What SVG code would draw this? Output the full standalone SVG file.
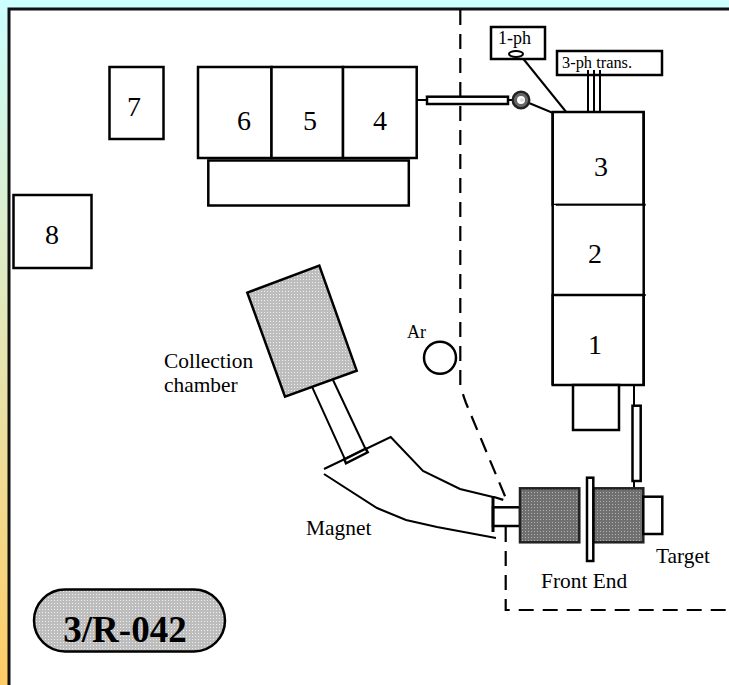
<svg xmlns="http://www.w3.org/2000/svg" width="729" height="685" viewBox="0 0 729 685">
<style>
.s{fill:none;stroke:#000;stroke-width:2}
.w{fill:#fff;stroke:#000;stroke-width:2.5}
.d{fill:none;stroke:#000;stroke-width:2.2;stroke-dasharray:15 9}
.t{font-family:"Liberation Serif",serif;fill:#000}
.n{font-size:28px}.l{font-size:21.4px}.x{font-size:18px}
.dk{fill:url(#dk);stroke:#222;stroke-width:2.5}
</style>
<defs>
<linearGradient id="bg" x1="0" y1="0" x2="0" y2="1"><stop offset="0" stop-color="#ccffff"/><stop offset="1" stop-color="#ffcc66"/></linearGradient>
<pattern id="dk" width="3" height="3" patternUnits="userSpaceOnUse"><rect width="3" height="3" fill="#707070"/><rect width="1" height="1" fill="#b0b0b0"/></pattern>
<pattern id="lt" width="3" height="3" patternUnits="userSpaceOnUse"><rect width="3" height="3" fill="#bdbdbd"/><rect width="1" height="1" fill="#eee"/></pattern>
</defs>
<rect width="729" height="685" fill="url(#bg)"/>
<rect x="9" y="9" width="720" height="676" fill="#fff"/>
<path d="M9 685V9H729" fill="none" stroke="#111" stroke-width="3"/>
<g id="connectors">
<path class="d" d="M460.3 10V385Q463 395 466 403L507 501L494 497"/>
<path class="d" d="M505.7 527V610H729"/>
<path class="s" d="M529 103L553 113H567"/>
<path class="s" d="M521 56L567 113"/>
<path class="s" d="M417 100H427M508 100H514"/>
<path class="s" d="M634 385V406M634 481V489"/>
</g>
<g id="n7"><rect class="w" x="109.5" y="67" width="54" height="72"/><text class="t n" x="127" y="116">7</text></g>
<g id="n8"><rect class="w" x="13.5" y="195" width="78" height="73"/><text class="t n" x="45" y="244">8</text></g>
<g id="base"><rect class="w" x="208.3" y="160.5" width="200.5" height="45"/></g>
<g id="n6"><rect class="w" x="198" y="67" width="73.5" height="91"/><text class="t n" x="237" y="130">6</text></g>
<g id="n5"><rect class="w" x="271.5" y="67" width="71.5" height="91"/><text class="t n" x="303" y="130">5</text></g>
<g id="n4"><rect class="w" x="343" y="67" width="73.7" height="91"/><text class="t n" x="373" y="130">4</text></g>
<g id="feed"><rect class="w" x="427" y="96.7" width="81" height="7.3"/><circle cx="521" cy="100" r="8" fill="#fff" stroke="#222" stroke-width="3"/><circle cx="521" cy="100" r="5.5" fill="none" stroke="#666" stroke-width="3"/><circle cx="522" cy="100" r="2" fill="#ddd"/></g>
<g id="ph1"><rect class="w" x="491" y="27" width="54" height="32"/><text class="t x" x="498" y="44">1-ph</text><ellipse cx="516" cy="54" rx="7" ry="3" fill="#fff" stroke="#000" stroke-width="2"/></g>
<g id="ph3"><rect class="w" x="557" y="51" width="105" height="24"/><text class="t" font-size="16.4" x="562" y="68">3-ph trans.</text></g>
<g id="ph3lines"><path class="s" d="M588 70V113M594 70V113M600 70V113"/></g>
<g id="n3"><rect class="w" x="552.7" y="112" width="91" height="93"/><text class="t n" x="594" y="176">3</text></g>
<g id="n2"><rect x="552.7" y="205" width="91" height="90" fill="#fff" stroke="none"/><text class="t n" x="588" y="263">2</text></g>
<g id="n1"><rect class="w" x="552.7" y="295" width="91" height="90"/><text class="t n" x="588" y="354">1</text></g>
<g id="col"><path class="w" fill="none" d="M552.7 112V385M643.7 112V385"/><path class="s" d="M555.7 204.7H645.7M555.7 295H645.7"/></g>
<g id="n1b"><rect class="w" x="573" y="385" width="46" height="45"/></g>
<g id="ar"><circle class="w" cx="440" cy="357.7" r="16"/><text class="t x" x="407" y="338">Ar</text></g>
<g id="chamber"><path d="M247.3 292.7L319.3 265.7L356.7 370.7L285 396.7Z" fill="url(#lt)" stroke="#000" stroke-width="2.5"/><path class="s" d="M312.3 387.3L345 459.3M333 380L366 450"/><text class="t l" x="164" y="368">Collection</text><text class="t l" x="164" y="392">chamber</text></g>
<g id="magnet"><path class="s" d="M324 469L390.7 437L423 471L460 489L493 497"/><path class="s" d="M324 474L377 508L406 520L437 527L496 538"/><path class="w" stroke-width="2" d="M344.3 459.3L365.7 448.7L367.7 452.3L346 463.3Z"/><text class="t l" x="306" y="535">Magnet</text></g>
<g id="frontend">
<rect class="w" x="493" y="507.3" width="27" height="18.7"/><path d="M493 496V532" stroke="#000" stroke-width="3" fill="none"/>
<rect class="dk" x="520" y="488.3" width="59.3" height="54"/>
<rect class="dk" x="593.3" y="488.3" width="50" height="54"/>
<rect class="w" x="587" y="477.7" width="6.3" height="83.3"/>
<rect class="w" x="643.3" y="496.7" width="19" height="37.3"/>
<rect class="w" x="632.5" y="405.7" width="8.2" height="75.3"/>
<text class="t l" x="541" y="588">Front End</text>
<text class="t l" x="656" y="563">Target</text>
</g>
<g id="badge"><rect x="34" y="589.5" width="191" height="62" rx="31" fill="url(#lt)" stroke="#000" stroke-width="2.5"/><text class="t" x="125" y="642" text-anchor="middle" font-weight="bold" font-size="37">3/R-042</text></g>
</svg>
